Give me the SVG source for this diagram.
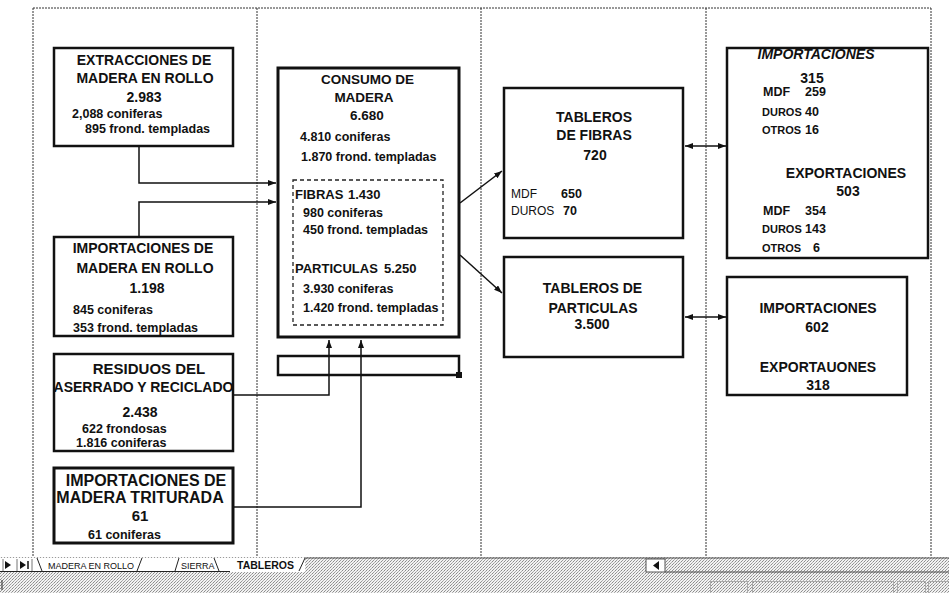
<svg xmlns="http://www.w3.org/2000/svg" width="949" height="593" viewBox="0 0 949 593">
<style>
text{font-family:"Liberation Sans",Arial,sans-serif;fill:#111;}
.h{font-size:14px;font-weight:bold;text-anchor:middle;}
.s{font-size:12.5px;font-weight:bold;}
.k{font-size:11px;font-weight:bold;}
.r{font-size:12px;font-weight:normal;}
.box{fill:#fff;stroke:#111;stroke-width:2.5;}
.thick{stroke-width:3;}
.dash{fill:none;stroke:#222;stroke-width:1.3;stroke-dasharray:4 3;}
.frame{fill:none;stroke:#333;stroke-width:1;stroke-dasharray:2 1;}
.con{fill:none;stroke:#111;stroke-width:1.5;}
.tab{font-size:9px;}
.sb{fill:none;stroke:#aaa;stroke-width:1;}
</style>
<defs>
<marker id="ah" markerUnits="userSpaceOnUse" markerWidth="9" markerHeight="7" refX="8" refY="3" orient="auto-start-reverse">
<path d="M0,0 L8,3 L0,6 z" fill="#111"/>
</marker>
<pattern id="dots" width="3" height="3" patternUnits="userSpaceOnUse">
<rect width="3" height="3" fill="#f2f2f2"/>
<rect x="0" y="0" width="1" height="1" fill="#8a8a8a"/>
<rect x="2" y="1" width="1" height="1" fill="#b0b0b0"/>
<rect x="1" y="2" width="1" height="1" fill="#9a9a9a"/>
</pattern>
</defs>
<rect width="949" height="593" fill="#fff"/>

<g id="page-breaks">
<path class="frame" d="M33,8 H931 M33,8 V557 M257,8 V557 M481,8 V557 M706,8 V557 M931,8 V557"/>
</g>

<g id="connectors">
<path class="con" d="M139,146 V183 H276" marker-end="url(#ah)"/>
<path class="con" d="M139,237 V202 H276" marker-end="url(#ah)"/>
<path class="con" d="M233,395 H329 V340" marker-end="url(#ah)"/>
<path class="con" d="M233,507 H361 V340" marker-end="url(#ah)"/>
<path class="con" d="M460,203 L502,171" marker-end="url(#ah)"/>
<path class="con" d="M460,255 L502,293" marker-end="url(#ah)"/>
<path class="con" d="M685,146 H726" marker-start="url(#ah)" marker-end="url(#ah)"/>
<path class="con" d="M685,317 H726" marker-start="url(#ah)" marker-end="url(#ah)"/>
</g>

<g id="extracciones">
<rect class="box" x="54" y="48" width="179" height="98"/>
<text class="h" x="144" y="65">EXTRACCIONES DE</text>
<text class="h" x="145" y="83">MADERA EN ROLLO</text>
<text class="h" x="144" y="102">2.983</text>
<text class="s" x="72" y="118">2,088 coniferas</text>
<text class="s" x="85" y="133">895 frond. templadas</text>
</g>

<g id="importaciones-rollo">
<rect class="box" x="54" y="237" width="179" height="99"/>
<text class="h" x="143" y="253">IMPORTACIONES DE</text>
<text class="h" x="145" y="273">MADERA EN ROLLO</text>
<text class="h" x="147" y="293">1.198</text>
<text class="s" x="73" y="314">845 coniferas</text>
<text class="s" x="73" y="332">353 frond. templadas</text>
</g>

<g id="residuos">
<rect class="box" x="54" y="354" width="179" height="97"/>
<text class="h" x="149" y="374" style="font-size:15px">RESIDUOS DEL</text>
<text class="h" x="143.5" y="392">ASERRADO Y RECICLADO</text>
<text class="h" x="140" y="417">2.438</text>
<text class="s" x="82" y="433">622 frondosas</text>
<text class="s" x="76" y="447">1.816 coniferas</text>
</g>

<g id="importaciones-triturada">
<rect class="box thick" x="54" y="468" width="179" height="75"/>
<text class="h" x="146" y="486" style="font-size:16px">IMPORTACIONES DE</text>
<text class="h" x="140" y="503" style="font-size:16px">MADERA TRITURADA</text>
<text class="h" x="140" y="521" style="font-size:15px">61</text>
<text class="s" x="88" y="539">61 coniferas</text>
</g>

<g id="consumo">
<rect class="box thick" x="278" y="68" width="181" height="269"/>
<text class="h" x="367.5" y="84" style="font-size:13.5px">CONSUMO DE</text>
<text class="h" x="364" y="102" style="font-size:13.5px">MADERA</text>
<text class="h" x="367" y="120" style="font-size:13.5px">6.680</text>
<text class="s" x="300" y="141">4.810 coniferas</text>
<text class="s" x="301" y="161">1.870 frond. templadas</text>
<rect class="dash" x="293" y="180" width="150" height="145"/>
<text class="s" x="295" y="199" style="font-size:13px">FIBRAS<tspan x="348">1.430</tspan></text>
<text class="s" x="303" y="217">980 coniferas</text>
<text class="s" x="303" y="234">450 frond. templadas</text>
<text class="s" x="295" y="273" style="font-size:13px">PARTICULAS<tspan x="384">5.250</tspan></text>
<text class="s" x="303" y="293">3.930 coniferas</text>
<text class="s" x="303" y="312">1.420 frond. templadas</text>
</g>

<g id="barra">
<rect x="278" y="356" width="181" height="19" fill="none" stroke="#111" stroke-width="2.5"/>
<rect x="456" y="372" width="6" height="6" fill="#111"/>
</g>

<g id="tableros-fibras">
<rect class="box" x="504" y="88" width="179" height="150"/>
<text class="h" x="594" y="122">TABLEROS</text>
<text class="h" x="594" y="140">DE FIBRAS</text>
<text class="h" x="595" y="160">720</text>
<text class="r" x="511" y="198">MDF</text>
<text class="s" x="561" y="198">650</text>
<text class="r" x="511" y="215">DUROS</text>
<text class="s" x="563" y="215">70</text>
</g>

<g id="tableros-particulas">
<rect class="box" x="504" y="257" width="179" height="100"/>
<text class="h" x="592.5" y="293">TABLEROS DE</text>
<text class="h" x="593" y="313">PARTICULAS</text>
<text class="h" x="592" y="329">3.500</text>
</g>

<g id="comercio-fibras">
<rect class="box" x="727" y="48" width="201" height="210"/>
<text class="h" x="816" y="59" style="font-style:italic">IMPORTACIONES</text>
<text class="h" x="812" y="83">315</text>
<text class="s" x="763" y="96">MDF</text>
<text class="s" x="805" y="96">259</text>
<text class="k" x="762" y="116">DUROS</text>
<text class="s" x="805" y="116">40</text>
<text class="k" x="762" y="134">OTROS</text>
<text class="s" x="805" y="134">16</text>
<text class="h" x="846" y="178">EXPORTACIONES</text>
<text class="h" x="848" y="196">503</text>
<text class="s" x="763" y="215">MDF</text>
<text class="s" x="805" y="215">354</text>
<text class="k" x="762" y="233">DUROS</text>
<text class="s" x="805" y="233">143</text>
<text class="k" x="762" y="252">OTROS</text>
<text class="s" x="813" y="252">6</text>
</g>

<g id="comercio-particulas">
<rect class="box" x="727" y="277" width="180" height="118"/>
<text class="h" x="818" y="313">IMPORTACIONES</text>
<text class="h" x="817" y="332">602</text>
<text class="h" x="818" y="372">EXPORTAUONES</text>
<text class="h" x="818" y="390">318</text>
</g>

<g id="tab-bar">
<rect x="0" y="557" width="949" height="36" fill="url(#dots)"/>
<rect x="0" y="558" width="305" height="14" fill="#fff"/>
<path d="M305,558 H949" stroke="#555" stroke-width="1"/>
<path d="M5,561 L11,565 L5,569 z M20,561 L26,565 L20,569 z" fill="#111"/>
<path d="M28,561 V569" stroke="#111" stroke-width="1.5"/>
<path d="M3,559 V571 M17,559 V571 M32,559 V571" stroke="#777" stroke-width="1"/>
<path d="M37,558 L42,571 M137,571 L142,558 M175,571 L179,558 M214,558 L219,571 M299,571 L305,558" stroke="#222" stroke-width="1" fill="none"/>
<path d="M0,571.5 H230" stroke="#222" stroke-width="1"/>
<text class="tab" x="48" y="568.5">MADERA EN ROLLO</text>
<text class="tab" x="181" y="568.5">SIERRA</text>
<text class="tab" x="237" y="569" style="font-size:10.5px;font-weight:bold">TABLEROS</text>
<rect x="646" y="559" width="19" height="13" fill="#fff" stroke="#555" stroke-width="1"/>
<path d="M659,561 L653,565.5 L659,570 z" fill="#111"/>
<path d="M665,572 H949" stroke="#444" stroke-width="1"/>
<rect class="sb" x="710.5" y="581.5" width="37" height="12"/>
<rect class="sb" x="752.5" y="581.5" width="141" height="12"/>
<rect class="sb" x="897.5" y="581.5" width="28" height="12"/>
<rect class="sb" x="928.5" y="581.5" width="21" height="12"/>
<path d="M2,580 V590" stroke="#222" stroke-width="1"/>
</g>
</svg>
